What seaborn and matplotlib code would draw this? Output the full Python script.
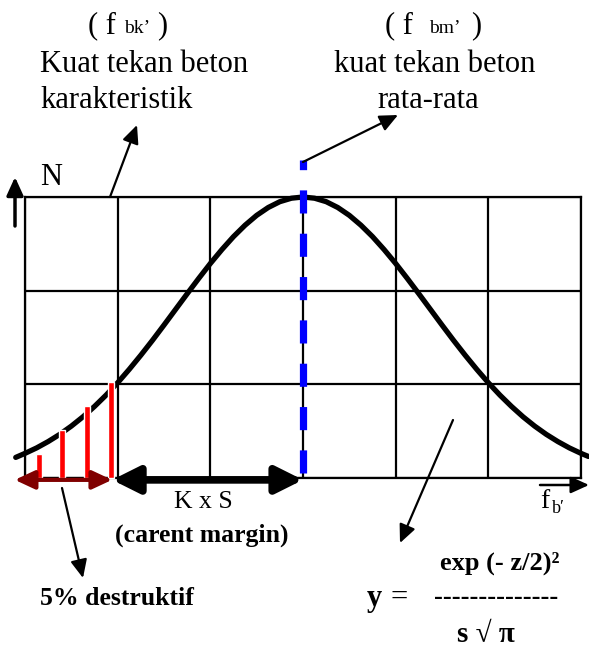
import matplotlib
matplotlib.use("Agg")
import matplotlib.pyplot as plt
import seaborn as sns
import pandas as pd

# ---- data (grid units: 6 columns x 3 rows) ----
curve_x = [-0.1, 0.0, 0.125, 0.25, 0.375, 0.5, 0.625, 0.75, 0.875, 1.0, 1.125, 1.25, 1.375,
           1.5, 1.625, 1.75, 1.875, 2.0, 2.125, 2.25, 2.375, 2.5, 2.625, 2.75, 2.875, 3.0,
           3.125, 3.25, 3.375, 3.5, 3.625, 3.75, 3.875, 4.0, 4.125, 4.25, 4.375, 4.5, 4.625,
           4.75, 4.875, 5.0, 5.125, 5.25, 5.375, 5.5, 5.625, 5.75, 5.875, 6.0, 6.08]
curve_y = [0.22, 0.263, 0.321, 0.389, 0.466, 0.554, 0.653, 0.764, 0.885, 1.017, 1.160, 1.311,
           1.469, 1.633, 1.800, 1.967, 2.131, 2.290, 2.439, 2.577, 2.699, 2.804, 2.888, 2.950,
           2.987, 3.0,
           2.987, 2.950, 2.888, 2.804, 2.699, 2.577, 2.439, 2.290, 2.131, 1.967, 1.800, 1.633,
           1.469, 1.311, 1.160, 1.017, 0.885, 0.764, 0.653, 0.554, 0.466, 0.389, 0.321, 0.263,
           0.23]
bar_x = [0.15, 0.40, 0.67, 0.93]
bar_h = [0.26, 0.51, 0.77, 1.02]
mean_x = 3.0
mean_line_top = 3.39
destr_range = [-0.11, 0.94]
margin_range = [0.94, 3.0]

sns.set_style("white")
plt.rcParams['font.family'] = ['Liberation Serif', 'DejaVu Serif']
plt.rcParams['text.color'] = 'black'

fig = plt.figure(figsize=(5.89, 6.48), dpi=100)
ax = fig.add_axes([25/589, (648-478)/648, (581-25)/589, (478-197)/648])
ax.set_xlim(0, 6)
ax.set_ylim(0, 3)
ax.set_xticks(range(7))
ax.set_yticks(range(4))
ax.set_xticklabels([])
ax.set_yticklabels([])
ax.tick_params(length=0)
ax.grid(True, color='black', lw=1.6)
for s in ax.spines.values():
    s.set_color('black')
    s.set_linewidth(1.6)
ax.set_facecolor('none')

df = pd.DataFrame({'x': curve_x, 'y': curve_y})
sns.lineplot(data=df, x='x', y='y', ax=ax, color='black', lw=3.8, sort=False,
             clip_on=False, zorder=4)
ax.set_xlabel('')
ax.set_ylabel('')

ax.bar(bar_x, bar_h, width=0.065, color='red', zorder=5, clip_on=False)

ax.vlines(mean_x, 0.05, mean_line_top, colors='#0000ff', lw=5.2, linestyles=(0, (3.2, 2.8)),
          zorder=6, clip_on=False)

ax.annotate('', xy=(destr_range[0], -0.02), xytext=(destr_range[1], -0.02),
            arrowprops=dict(arrowstyle='<|-|>,head_length=0.6,head_width=0.28',
                            mutation_scale=20, color='#800000', lw=3,
                            shrinkA=0, shrinkB=0), annotation_clip=False, zorder=7)
ax.annotate('', xy=(margin_range[0], -0.02), xytext=(margin_range[1], -0.02),
            arrowprops=dict(arrowstyle='<|-|>,head_length=0.8,head_width=0.4',
                            mutation_scale=20, color='black', lw=5.5,
                            shrinkA=0, shrinkB=0), annotation_clip=False, zorder=7)

# overlay in pixel coordinates for labels and pointer arrows
ov = fig.add_axes([0, 0, 1, 1])
ov.set_xlim(0, 589)
ov.set_ylim(648, 0)
ov.axis('off')
ov.set_facecolor('none')

def arrow(x0, y0, x1, y1, lw=1.6, hl=0.55, hw=0.25):
    ov.annotate('', xy=(x1, y1), xytext=(x0, y0),
                arrowprops=dict(arrowstyle=f'-|>,head_length={hl},head_width={hw}',
                                mutation_scale=20, color='black', lw=lw,
                                shrinkA=0, shrinkB=0))

arrow(110, 197, 137, 125)
arrow(303, 162, 398, 115)
arrow(453, 420, 400, 543)
arrow(62, 488, 83, 578)
arrow(540, 485, 589, 485, lw=1.8)
arrow(15, 226, 15, 177, lw=2.5)

big = 22
mid = 18.5
# top left
ov.text(88, 33, '( f', fontsize=big, va='baseline')
ov.text(124, 33, 'bk’', fontsize=14, va='baseline')
ov.text(157, 33, ')', fontsize=big, va='baseline')
ov.text(40, 72, 'Kuat tekan beton', fontsize=big, va='baseline')
ov.text(40, 108, 'karakteristik', fontsize=big, va='baseline')
# top right
ov.text(385, 33, '( f', fontsize=big, va='baseline')
ov.text(429, 33, 'bm’', fontsize=14, va='baseline')
ov.text(471, 33, ')', fontsize=big, va='baseline')
ov.text(435, 72, 'kuat tekan beton', fontsize=big, va='baseline', ha='center')
ov.text(428, 108, 'rata-rata', fontsize=big, va='baseline', ha='center')
# axis labels
ov.text(40, 185, 'N', fontsize=big, va='baseline')
ov.text(540, 508, 'f', fontsize=20, va='baseline')
ov.text(552, 513, 'b′', fontsize=13, va='baseline')
# bottom
ov.text(203, 508, 'K x S', fontsize=mid, va='baseline', ha='center')
ov.text(202, 542, '(carent margin)', fontsize=mid, va='baseline', ha='center', fontweight='bold')
ov.text(40, 605, '5% destruktif', fontsize=mid, va='baseline', fontweight='bold')
# formula
ov.text(500, 570, 'exp (- z/2)²', fontsize=19, va='baseline', ha='center', fontweight='bold')
ov.text(367, 606, 'y', fontsize=22, va='baseline', fontweight='bold')
ov.text(390, 606, '=', fontsize=22, va='baseline')
ov.text(496, 604, '-' * 14, fontsize=19, va='baseline', ha='center', fontweight='bold')
ov.text(486, 642, 's √ π', fontsize=21, va='baseline', ha='center', fontweight='bold')

fig.savefig('out.png', dpi=100)
